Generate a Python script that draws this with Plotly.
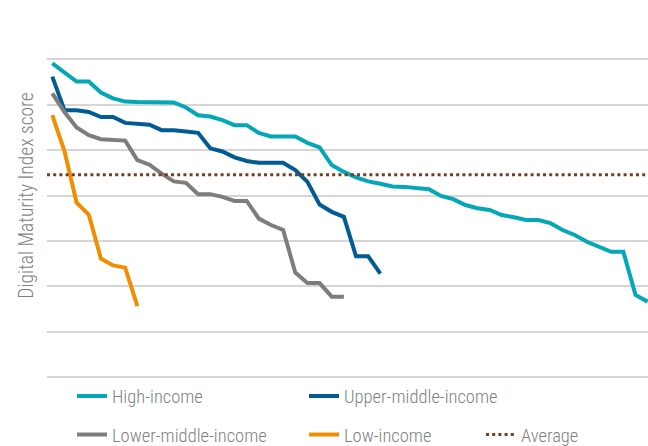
import plotly.graph_objects as go

# Digital Maturity Index score, countries ranked within each income group
high_income = [69.1, 67.2, 65.1, 65.1, 62.7, 61.4, 60.7, 60.6, 60.5, 60.5,
               60.5, 59.4, 57.7, 57.4, 56.6, 55.5, 55.5, 53.8, 53.0, 53.0,
               53.0, 51.6, 50.6, 46.7, 45.2, 44.0, 43.1, 42.6, 42.0, 41.9,
               41.6, 41.4, 39.9, 39.2, 37.9, 37.2, 36.8, 35.7, 35.2, 34.6,
               34.6, 33.9, 32.4, 31.3, 29.8, 28.7, 27.6, 27.6, 18.1, 16.6]
upper_middle_income = [66.2, 58.8, 58.8, 58.4, 57.3, 57.3, 56.0, 55.9, 55.6, 54.4,
                       54.4, 54.1, 53.8, 50.4, 49.7, 48.4, 47.6, 47.2, 47.2, 47.2,
                       45.6, 43.0, 38.0, 36.4, 35.3, 26.6, 26.6, 22.8]
lower_middle_income = [62.5, 58.4, 55.0, 53.3, 52.4, 52.3, 52.1, 47.8, 46.8, 44.8,
                       43.1, 42.8, 40.3, 40.3, 39.7, 38.8, 38.8, 34.9, 33.5, 32.4,
                       23.0, 20.7, 20.7, 17.7, 17.7]
low_income = [57.7, 49.8, 38.4, 35.8, 26.1, 24.6, 24.1, 15.6]
average_score = 44.6

series_names = ["High-income", "Upper-middle-income", "Lower-middle-income", "Low-income"]
series_values = [high_income, upper_middle_income, lower_middle_income, low_income]
series_colors = ["#04a7b6", "#015c96", "#7d7d7d", "#f18e00"]
legend_ids = ["legend", "legend2", "legend3", "legend4"]

y_ticks = [0, 10, 20, 30, 40, 50, 60, 70, 80]
x_range = [0.564, 50.03]

FONT = "Roboto Condensed, Roboto, sans-serif"
TEXT_GREY = "#7f7f7f"
W, H = 648, 446

fig = go.Figure()
for name, vals, col, lg in zip(series_names, series_values, series_colors, legend_ids):
    fig.add_trace(go.Scatter(
        x=list(range(1, len(vals) + 1)), y=vals, mode="lines", name=name,
        line=dict(color=col, width=4), legend=lg,
    ))

fig.add_trace(go.Scatter(
    x=x_range, y=[average_score, average_score], mode="lines", name="Average",
    line=dict(color="#7a3a28", width=3, dash="3px,3.2px"), legend="legend5",
))

def lg(xpx, ypx):
    return dict(x=xpx / W, y=(H - ypx) / H, xanchor="left", yanchor="middle",
                orientation="v", bgcolor="rgba(0,0,0,0)", borderwidth=0,
                font=dict(family=FONT, size=18.5, color=TEXT_GREY, weight=300))

fig.update_layout(
    width=W, height=H,
    margin=dict(l=0, r=0, t=0, b=0, autoexpand=False),
    paper_bgcolor="white", plot_bgcolor="white",
    showlegend=True,
    legend=lg(72, 396.5), legend2=lg(304, 396.5), legend3=lg(72, 435),
    legend4=lg(304, 435), legend5=lg(481, 435),
    xaxis=dict(domain=[47 / W, 1], range=x_range, showgrid=False, zeroline=False,
               showline=False, showticklabels=False, ticks=""),
    yaxis=dict(domain=[(H - 377) / H, (H - 14) / H], range=[0, 80], tickvals=y_ticks,
               showticklabels=False, ticks="", automargin=False,
               showgrid=True, gridcolor="#d6d6d6", gridwidth=1.6,
               zeroline=True, zerolinecolor="#d6d6d6", zerolinewidth=1.6, showline=False,
               title=dict(text="Digital Maturity Index score", standoff=7,
                          font=dict(family=FONT, size=19.5, color=TEXT_GREY, weight=300))),
)

# the page body has a default 8px margin; remove it so the figure fills the window
fig.write_html("out.html", config={"displayModeBar": False},
               post_script="document.body.style.margin='0';")
